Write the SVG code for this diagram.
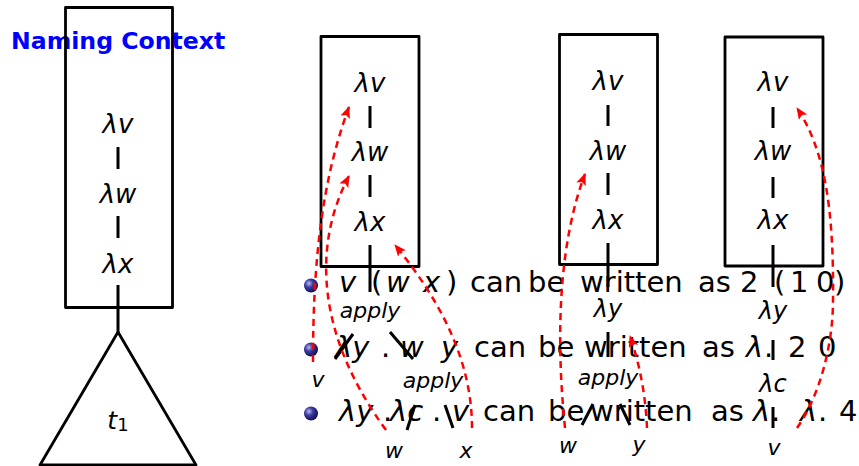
<svg xmlns="http://www.w3.org/2000/svg" width="859" height="466" viewBox="0 0 859 466">
<style>
.box{fill:none;stroke:#000;stroke-width:2.8;stroke-linejoin:round}
.edge{fill:none;stroke:#000;stroke-width:3}
.lbl{font-family:"DejaVu Sans",sans-serif;font-size:26px;font-style:italic;fill:#000;text-anchor:middle}
.small{font-size:22px}
.mid{font-size:24px}
.item{font-family:"DejaVu Sans",sans-serif;font-size:29px;fill:#000}
.m{font-style:italic}
.arr{fill:none;stroke:#f00;stroke-width:2.5;stroke-dasharray:7 5;marker-end:url(#tip)}
.title{font-family:"DejaVu Sans",sans-serif;font-size:23.6px;font-weight:bold;fill:#00f}
</style>
<defs>
<marker id="tip" viewBox="0 0 12 10" refX="11" refY="5" markerWidth="12" markerHeight="10" markerUnits="userSpaceOnUse" orient="auto">
<path d="M0,0 L12,5 L0,10 L2.5,5 z" fill="#f00"/>
</marker>
<radialGradient id="ball" cx="35%" cy="35%" r="65%">
<stop offset="0" stop-color="#b8b8f0"/>
<stop offset="0.45" stop-color="#3a3aa0"/>
<stop offset="1" stop-color="#12125a"/>
</radialGradient>
</defs>

<g id="naming-context"><text class="title" x="11" y="49">Naming Context</text></g>

<!-- Tree 1 -->
<g id="t1-box"><rect class="box" x="65.5" y="7.5" width="107" height="300"/></g>
<g id="t1-lv"><text class="lbl" x="118" y="133">λv</text></g>
<g id="t1-lw"><text class="lbl" x="118" y="203">λw</text></g>
<g id="t1-lx"><text class="lbl" x="118" y="273">λx</text></g>
<g id="t1-tri"><polygon class="box" points="118,332 40,465 196,465"/><text class="lbl" x="118" y="429" style="font-size:25px">t<tspan style="font-style:normal;font-size:18px" dy="2">1</tspan></text></g>

<!-- Tree 2 -->
<g id="t2-box"><rect class="box" x="321" y="36.5" width="98" height="230"/></g>
<g id="t2-lv"><text class="lbl" x="370" y="92">λv</text></g>
<g id="t2-lw"><text class="lbl" x="370" y="161">λw</text></g>
<g id="t2-lx"><text class="lbl" x="370" y="231">λx</text></g>
<g id="t2-apply1"><text class="lbl small" x="370" y="318">apply</text></g>
<g id="t2-v"><text class="lbl small" x="318" y="387">v</text></g>
<g id="t2-apply2"><text class="lbl small" x="433" y="388">apply</text></g>
<g id="t2-w"><text class="lbl small" x="394" y="458">w</text></g>
<g id="t2-x"><text class="lbl small" x="466" y="458">x</text></g>

<!-- Tree 3 -->
<g id="t3-box"><rect class="box" x="559.5" y="34.5" width="98" height="230"/></g>
<g id="t3-lv"><text class="lbl" x="608" y="90">λv</text></g>
<g id="t3-lw"><text class="lbl" x="608" y="160">λw</text></g>
<g id="t3-lx"><text class="lbl" x="608" y="229">λx</text></g>
<g id="t3-ly"><text class="lbl mid" x="608" y="317">λy</text></g>
<g id="t3-apply"><text class="lbl small" x="608" y="385">apply</text></g>
<g id="t3-w"><text class="lbl small" x="568" y="453">w</text></g>
<g id="t3-y"><text class="lbl small" x="639" y="452">y</text></g>

<!-- Tree 4 -->
<g id="t4-box"><rect class="box" x="725" y="37" width="98" height="229"/></g>
<g id="t4-lv"><text class="lbl" x="773" y="91">λv</text></g>
<g id="t4-lw"><text class="lbl" x="773" y="160">λw</text></g>
<g id="t4-lx"><text class="lbl" x="773" y="229">λx</text></g>
<g id="t4-ly"><text class="lbl mid" x="773" y="319">λy</text></g>
<g id="t4-lc"><text class="lbl mid" x="773" y="392">λc</text></g>
<g id="t4-v"><text class="lbl small" x="774" y="455">v</text></g>

<!-- Bullet list -->
<g id="item1">
<circle cx="311" cy="285.5" r="7" fill="url(#ball)"/>
<text class="item" y="292"><tspan class="m" x="339">v</tspan><tspan x="371">(</tspan><tspan class="m" x="386">w</tspan><tspan class="m" x="423">x</tspan><tspan x="446">)</tspan><tspan x="470">can</tspan><tspan x="528">be</tspan><tspan x="580">written</tspan><tspan x="698">as</tspan><tspan x="740">2</tspan><tspan x="774">(</tspan><tspan x="790">1</tspan><tspan x="816">0</tspan><tspan x="834">)</tspan></text>
</g>
<g id="item2">
<circle cx="311" cy="349.5" r="7" fill="url(#ball)"/>
<text class="item" y="357"><tspan class="m" x="335">λy</tspan><tspan x="381">.</tspan><tspan class="m" x="400">w</tspan><tspan class="m" x="441">y</tspan><tspan x="474">can</tspan><tspan x="538">be</tspan><tspan x="584">written</tspan><tspan x="702">as</tspan><tspan class="m" x="746">λ</tspan><tspan x="764">.</tspan><tspan x="788">2</tspan><tspan x="818">0</tspan></text>
</g>
<g id="item3">
<circle cx="311" cy="413.5" r="7" fill="url(#ball)"/>
<text class="item" y="421"><tspan class="m" x="339">λy</tspan><tspan x="383">.</tspan><tspan class="m" x="390">λc</tspan><tspan x="432">.</tspan><tspan class="m" x="452">v</tspan><tspan x="483">can</tspan><tspan x="548">be</tspan><tspan x="590">written</tspan><tspan x="711">as</tspan><tspan class="m" x="753">λ</tspan><tspan x="771">.</tspan><tspan class="m" x="800">λ</tspan><tspan x="818">.</tspan><tspan x="839">4</tspan></text>
</g>

<g id="connectors">
<!-- tree 1 -->
<line class="edge" x1="118" y1="147" x2="118" y2="169"/>
<line class="edge" x1="118" y1="216" x2="118" y2="238"/>
<line class="edge" x1="118" y1="285" x2="118" y2="332"/>
<!-- tree 2 -->
<line class="edge" x1="370" y1="106" x2="370" y2="128"/>
<line class="edge" x1="370" y1="175" x2="370" y2="197"/>
<line class="edge" x1="370" y1="245" x2="370" y2="292"/>
<line class="edge" x1="353" y1="334" x2="335" y2="359"/>
<line class="edge" x1="390" y1="332" x2="413" y2="359"/>
<line class="edge" x1="415" y1="405" x2="407" y2="430"/>
<line class="edge" x1="445" y1="405" x2="453" y2="428"/>
<!-- tree 3 -->
<line class="edge" x1="608" y1="105" x2="608" y2="126"/>
<line class="edge" x1="608" y1="173" x2="608" y2="195"/>
<line class="edge" x1="608" y1="243" x2="608" y2="287"/>
<line class="edge" x1="608" y1="332" x2="608" y2="357"/>
<line class="edge" x1="593" y1="404" x2="582" y2="425"/>
<line class="edge" x1="620" y1="404" x2="630" y2="425"/>
<!-- tree 4 -->
<line class="edge" x1="773" y1="107" x2="773" y2="128"/>
<line class="edge" x1="773" y1="177" x2="773" y2="198"/>
<line class="edge" x1="773" y1="245" x2="773" y2="287"/>
<line class="edge" x1="773" y1="340" x2="773" y2="360"/>
<line class="edge" x1="773" y1="407" x2="773" y2="428"/>
<!-- red dashed binding arrows -->
<path class="arr" d="M313,362 C313,260 322,180 349,107"/>
<path class="arr" d="M386,430 C320,340 310,250 349,176"/>
<path class="arr" d="M472,428 C472,360 440,300 395,245"/>
<path class="arr" d="M565,428 C555,330 560,240 585,174"/>
<path class="arr" d="M647,428 Q645,380 630,336"/>
<path class="arr" d="M797,428 C820,395 833,345 833,300 C834,210 825,150 797,108"/>
</g>
</svg>
